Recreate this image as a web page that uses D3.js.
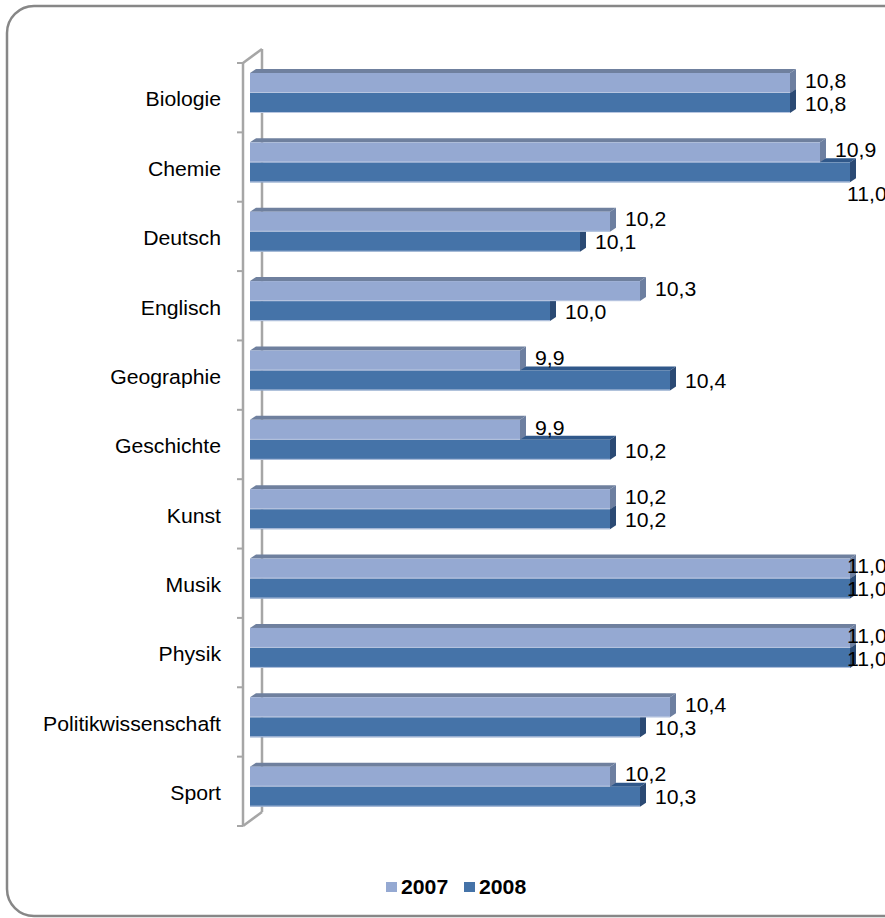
<!DOCTYPE html>
<html>
<head>
<meta charset="utf-8">
<script src="https://cdn.jsdelivr.net/npm/d3@7"></script>
<style>
  body { margin: 0; background: #fff; }
  svg text { font-family: "Liberation Sans", Arial, sans-serif; fill: #000; }
</style>
</head>
<body>
<svg id="chart" width="885" height="918"></svg>
<script>
// data
const subjects = ['Biologie', 'Chemie', 'Deutsch', 'Englisch', 'Geographie', 'Geschichte',
  'Kunst', 'Musik', 'Physik', 'Politikwissenschaft', 'Sport'];
const years = ['2007', '2008'];
const values2007 = [10.8, 10.9, 10.2, 10.3, 9.9, 9.9, 10.2, 11.0, 11.0, 10.4, 10.2];
const values2008 = [10.8, 11.0, 10.1, 10.0, 10.4, 10.2, 10.2, 11.0, 11.0, 10.3, 10.3];
const xDomain = [9, 11];

// look
const PLOT = { left: 250, right: 850, top: 63, bottom: 826 };
const DEPTH = { dx: 19, dy: -14 };   // wall depth
const BAR_D = { dx: 6, dy: -4 };     // bar depth
const BAR_H = 20;
const FONT = 19.3;
const STRETCH = 1.1;
const colors = {
  '2007': { front: '#95a9d2', top: '#6f809e', side: '#6d7fa0' },
  '2008': { front: '#4573a8', top: '#30588a', side: '#2b4a74' }
};

const fmt = d3.formatLocale({ decimal: ',', thousands: '.', grouping: [3], currency: ['', ''] }).format('.1f');

const svg = d3.select('#chart');

// outer rounded frame
svg.append('rect')
  .attr('x', 7).attr('y', 6)
  .attr('width', 940).attr('height', 910)
  .attr('rx', 27).attr('ry', 27)
  .attr('fill', '#fff')
  .attr('stroke', '#878787')
  .attr('stroke-width', 2.5);

const xScale = d3.scaleLinear().domain(xDomain).range([PLOT.left, PLOT.right]);
const yScale = d3.scaleBand().domain(subjects).range([PLOT.top, PLOT.bottom]);
const wallX = PLOT.left - 7;

// back wall (drawn first so the bars cover it)
const wall = svg.append('g')
  .attr('fill', 'none')
  .attr('stroke', '#a6a6a6')
  .attr('stroke-width', 2.5);

wall.append('line')
  .attr('x1', wallX + DEPTH.dx).attr('y1', PLOT.top + DEPTH.dy)
  .attr('x2', wallX + DEPTH.dx).attr('y2', PLOT.bottom + DEPTH.dy);
wall.append('line')
  .attr('x1', wallX).attr('y1', PLOT.top)
  .attr('x2', wallX + DEPTH.dx).attr('y2', PLOT.top + DEPTH.dy);
wall.append('line')
  .attr('x1', wallX).attr('y1', PLOT.bottom)
  .attr('x2', wallX + DEPTH.dx).attr('y2', PLOT.bottom + DEPTH.dy);

// bars
const rows = subjects.map((s, i) => ({ subject: s, v: { '2007': values2007[i], '2008': values2008[i] } }));

function drawBar(g, d, year, y0) {
  const x0 = xScale(xDomain[0]);
  const x1 = xScale(d.v[year]);
  const c = colors[year];
  // top face
  g.append('path')
    .attr('d', `M${x0},${y0} L${x0 + BAR_D.dx},${y0 + BAR_D.dy} L${x1 + BAR_D.dx},${y0 + BAR_D.dy} L${x1},${y0} Z`)
    .attr('fill', c.top);
  // side face
  g.append('path')
    .attr('d', `M${x1},${y0} L${x1 + BAR_D.dx},${y0 + BAR_D.dy} L${x1 + BAR_D.dx},${y0 + BAR_H + BAR_D.dy} L${x1},${y0 + BAR_H} Z`)
    .attr('fill', c.side);
  // front face
  g.append('rect')
    .attr('x', x0).attr('y', y0)
    .attr('width', x1 - x0).attr('height', BAR_H)
    .attr('fill', c.front);
  // light bevel at bottom
  g.append('line')
    .attr('x1', x0).attr('x2', x1)
    .attr('y1', y0 + BAR_H - 0.5).attr('y2', y0 + BAR_H - 0.5)
    .attr('stroke', '#b8c6e0').attr('stroke-width', 1);
}

const barG = svg.append('g');
rows.forEach(d => {
  const yTop = yScale(d.subject) + 10;
  const g = barG.append('g');
  drawBar(g, d, '2008', yTop + BAR_H);
  drawBar(g, d, '2007', yTop);
});

// front wall line with ticks
svg.append('line')
  .attr('x1', wallX).attr('y1', PLOT.top)
  .attr('x2', wallX).attr('y2', PLOT.bottom)
  .attr('stroke', '#a6a6a6').attr('stroke-width', 2.5);
svg.append('g')
  .selectAll('line')
  .data(subjects.concat(['end']))
  .join('line')
  .attr('x1', wallX - 6).attr('x2', wallX)
  .attr('y1', (s, i) => PLOT.top + i * yScale.step())
  .attr('y2', (s, i) => PLOT.top + i * yScale.step())
  .attr('stroke', '#a6a6a6').attr('stroke-width', 2);

// category labels
svg.append('g')
  .selectAll('text')
  .data(subjects)
  .join('text')
  .attr('transform', s => `translate(221,${yScale(s) + yScale.bandwidth() / 2 + 2}) scale(${STRETCH},1)`)
  .attr('dy', '0.35em')
  .attr('text-anchor', 'end')
  .style('font-size', FONT + 'px')
  .text(s => s);

// value labels
const labelMax = 847;
const labelG = svg.append('g');
rows.forEach(d => {
  const yTop = yScale(d.subject) + 10;
  const clamped = {};
  years.forEach(yr => { clamped[yr] = xScale(d.v[yr]) + 15 > labelMax; });
  years.forEach((yr, k) => {
    const lx = Math.min(xScale(d.v[yr]) + 15, labelMax);
    let ly = yTop + k * BAR_H + BAR_H / 2 + (k === 0 ? -2 : 1);
    // a clamped label whose neighbour is free gets pushed below the bar
    if (clamped[yr] && !clamped[years[1 - k]]) ly += 21;
    labelG.append('text')
      .attr('transform', `translate(${lx},${ly}) scale(${STRETCH},1)`)
      .attr('dy', '0.35em')
      .style('font-size', FONT + 'px')
      .text(fmt(d.v[yr]));
  });
});

// legend
const legend = svg.append('g').attr('transform', 'translate(386,887)');
const items = legend.selectAll('g')
  .data(years)
  .join('g')
  .attr('transform', (d, i) => `translate(${i * 78},0)`);
items.append('rect')
  .attr('x', 0).attr('y', -5)
  .attr('width', 11).attr('height', 10)
  .attr('fill', d => colors[d].front);
items.append('text')
  .attr('transform', `translate(15,0) scale(${STRETCH},1)`)
  .attr('dy', '0.35em')
  .style('font-size', FONT + 'px')
  .style('font-weight', 'bold')
  .text(d => d);
</script>
</body>
</html>
